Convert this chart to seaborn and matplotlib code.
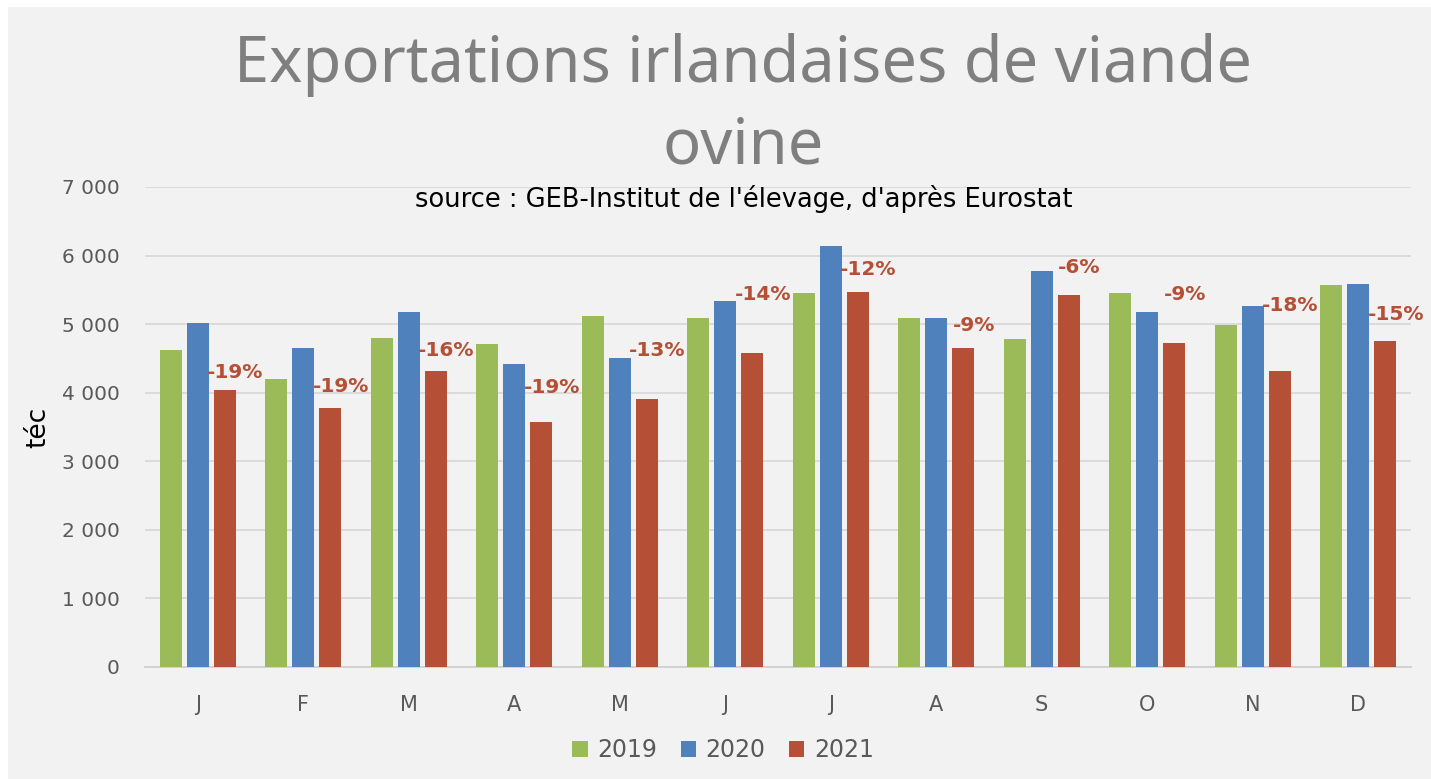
import pandas as pd
import seaborn as sns
import matplotlib.pyplot as plt
from matplotlib.patches import Rectangle

# data (tonnes équivalent carcasse)
months = ['J', 'F', 'M', 'A', 'M', 'J', 'J', 'A', 'S', 'O', 'N', 'D']
years = ['2019', '2020', '2021']
exp_2019 = [4620, 4205, 4805, 4705, 5120, 5085, 5460, 5095, 4785, 5450, 4990, 5570]
exp_2020 = [5015, 4655, 5170, 4425, 4505, 5340, 6145, 5095, 5775, 5180, 5265, 5585]
exp_2021 = [4035, 3775, 4310, 3570, 3905, 4580, 5475, 4655, 5420, 4725, 4310, 4755]
change_labels = ['-19%', '-19%', '-16%', '-19%', '-13%', '-14%',
                 '-12%', '-9%', '-6%', '-9%', '-18%', '-15%']
label_y = [4290, 4085, 4610, 4070, 4610, 5425, 5790, 4975, 5820, 5425, 5265, 5135]

colors = {'2019': '#9BBB59', '2020': '#4F81BD', '2021': '#B55037'}

df = pd.DataFrame({
    'mois': list(range(12)) * 3,
    'annee': [y for y in years for _ in range(12)],
    'tec': exp_2019 + exp_2020 + exp_2021,
})

sns.set_theme(style='white')
plt.rcParams['font.family'] = ['DejaVu Sans']

fig = plt.figure(figsize=(14.31, 7.79), dpi=100, facecolor='white')
fig.patches.append(Rectangle((8 / 1431, 0), 1, 1 - 7 / 779, transform=fig.transFigure,
                             facecolor='#F2F2F2', edgecolor='none', zorder=-10))
ax = fig.add_axes([145 / 1431, 112 / 779, 1266 / 1431, 480 / 779])
ax.patch.set_alpha(0)

sns.barplot(data=df, x='mois', y='tec', hue='annee', palette=colors, saturation=1,
            width=0.77, gap=0.19, linewidth=0, ax=ax, zorder=3, legend=True)

ax.set_ylim(0, 7000)
ax.set_xlim(-0.5, 11.5)
ax.set_yticks(range(0, 7001, 1000))
ax.set_yticklabels([f'{v:,}'.replace(',', ' ') for v in range(0, 7001, 1000)])
ax.yaxis.grid(True, color='#D9D9D9', linewidth=1.3, zorder=0)
ax.set_axisbelow(True)
for s in ['top', 'right', 'left']:
    ax.spines[s].set_visible(False)
ax.spines['bottom'].set_color('#D0D0D0')
ax.spines['bottom'].set_linewidth(1.3)

ax.set_xticks(range(12))
ax.set_xticklabels(months)
ax.set_xticks([i - 0.5 for i in range(13)], minor=True)
ax.tick_params(axis='x', which='major', length=0, pad=20, labelsize=15, labelcolor='#595959')
ax.tick_params(axis='x', which='minor', length=6, width=1.3, color='#D0D0D0')
ax.tick_params(axis='y', length=0, pad=18, labelsize=14.5, labelcolor='#595959')

ax.set_xlabel('')
ax.set_ylabel('téc', fontsize=19, color='black')
ax.yaxis.set_label_coords(-0.074, 0.5)

# variation 2021 / 2020 above the 2021 bars
red_bars = [p for p in ax.patches if p.get_height() > 0][24:36]
for bar, txt, yv in zip(red_bars, change_labels, label_y):
    xc = bar.get_x() + bar.get_width() / 2 + 0.1
    ax.text(xc, yv, txt, ha='center', va='center', fontsize=14.5, fontweight='bold',
            color='#B55037', zorder=5)

fig.text(743 / 1431, 1 - 65 / 779, 'Exportations irlandaises de viande',
         ha='center', va='center', fontsize=45.5, color='#7F7F7F', family='Noto Sans')
fig.text(743 / 1431, 1 - 147 / 779, 'ovine',
         ha='center', va='center', fontsize=45.5, color='#7F7F7F', family='Noto Sans')
fig.text(744 / 1431, 1 - 199 / 779, "source : GEB-Institut de l'élevage, d'après Eurostat",
         ha='center', va='center', fontsize=18.5, color='black')

handles, labels = ax.get_legend_handles_labels()
ax.get_legend().remove()
fig.legend(handles, labels, loc='center', bbox_to_anchor=(723 / 1431, 29 / 779), ncol=3,
           frameon=False, fontsize=17, labelcolor='#595959', handlelength=0.65,
           handleheight=0.65, handletextpad=0.4, columnspacing=1.0)

fig.savefig('out.png', dpi=100, facecolor='white')
